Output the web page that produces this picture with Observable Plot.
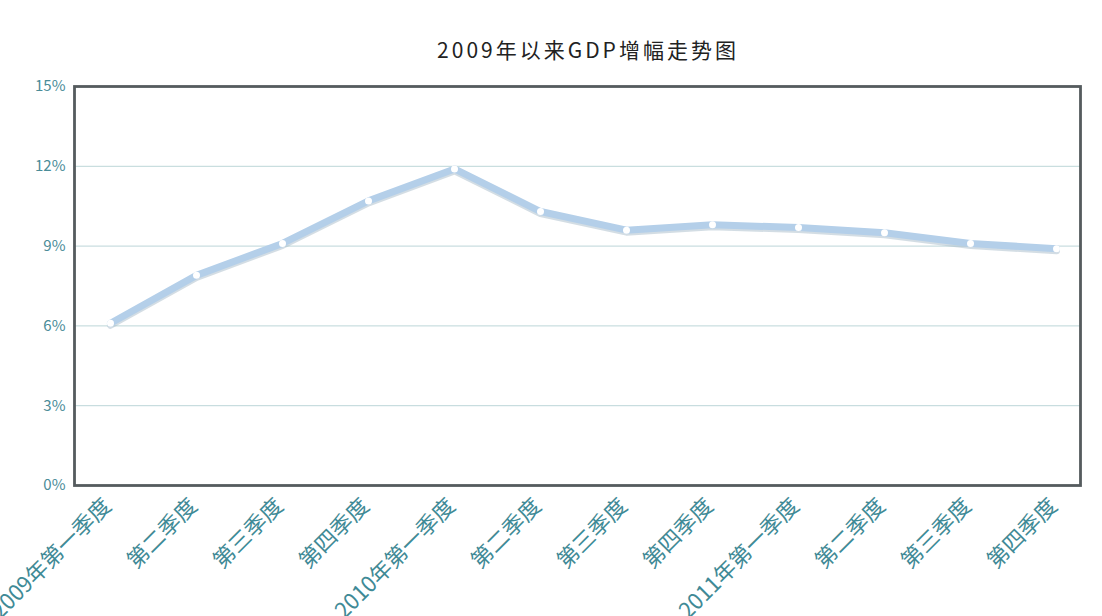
<!DOCTYPE html>
<html><head><meta charset="utf-8">
<script src="https://cdn.jsdelivr.net/npm/d3@7"></script>
<script src="https://cdn.jsdelivr.net/npm/@observablehq/plot@0.6"></script>
<style>
body{margin:0;background:#fff;}
#wrap{position:relative;width:1102px;height:616px;overflow:hidden;}
#title{position:absolute;top:34px;left:588px;transform:translateX(-50%);font-family:"Noto Sans CJK SC","Noto Sans",sans-serif;font-size:21px;letter-spacing:3px;color:#222;white-space:nowrap;line-height:30px;}
</style></head>
<body><div id="wrap"><div id="title">2009年以来GDP增幅走势图</div><div id="chart"></div></div>
<script>
const quarters = ["2009年第一季度","第二季度","第三季度","第四季度","2010年第一季度","第二季度 ","第三季度 ","第四季度 ","2011年第一季度","第二季度  ","第三季度  ","第四季度  "];
const growth = [6.1, 7.9, 9.1, 10.7, 11.9, 10.3, 9.6, 9.8, 9.7, 9.5, 9.1, 8.9];
const yTicks = [0, 3, 6, 9, 12, 15];
const gridTicks = [3, 6, 9, 12];
const data = quarters.map((q, i) => ({q, v: growth[i]}));

const chart = Plot.plot({
  width: 1102, height: 616,
  marginTop: 86, marginBottom: 131, marginLeft: 74, marginRight: 22,
  style: {fontFamily: "'Noto Sans CJK SC','Noto Sans',sans-serif", background: "transparent", overflow: "visible"},
  x: {type: "point", domain: quarters, padding: 0, insetLeft: 33, insetRight: 22},
  y: {domain: [0, 15]},
  marks: [
    Plot.gridY(gridTicks, {stroke: "#bcd6d8", strokeOpacity: 1, strokeWidth: 1}),
    Plot.line(data, {x: "q", y: "v", stroke: "#9db3c4", strokeWidth: 7, strokeOpacity: 0.45, dy: 2}),
    Plot.line(data, {x: "q", y: "v", stroke: "#b4cfe9", strokeWidth: 7}),
    Plot.dot(data, {x: "q", y: "v", r: 3.5, fill: "#fff", stroke: "none"}),
    Plot.frame({stroke: "#555b5e", strokeWidth: 2.8}),
    Plot.axisY(yTicks, {tickSize: 0, tickPadding: 9, tickFormat: d => d + "%", fontSize: 15, fill: "#4a8c98", label: null}),
    Plot.axisX({tickSize: 0, tickPadding: 17, dx: -3, tickRotate: -45, textAnchor: "end", fontSize: 22, fill: "#3f8a96", tickFormat: d => d.trim(), label: null, style: {letterSpacing: "3px"}})
  ]
});
document.getElementById("chart").appendChild(chart);
</script></body></html>
